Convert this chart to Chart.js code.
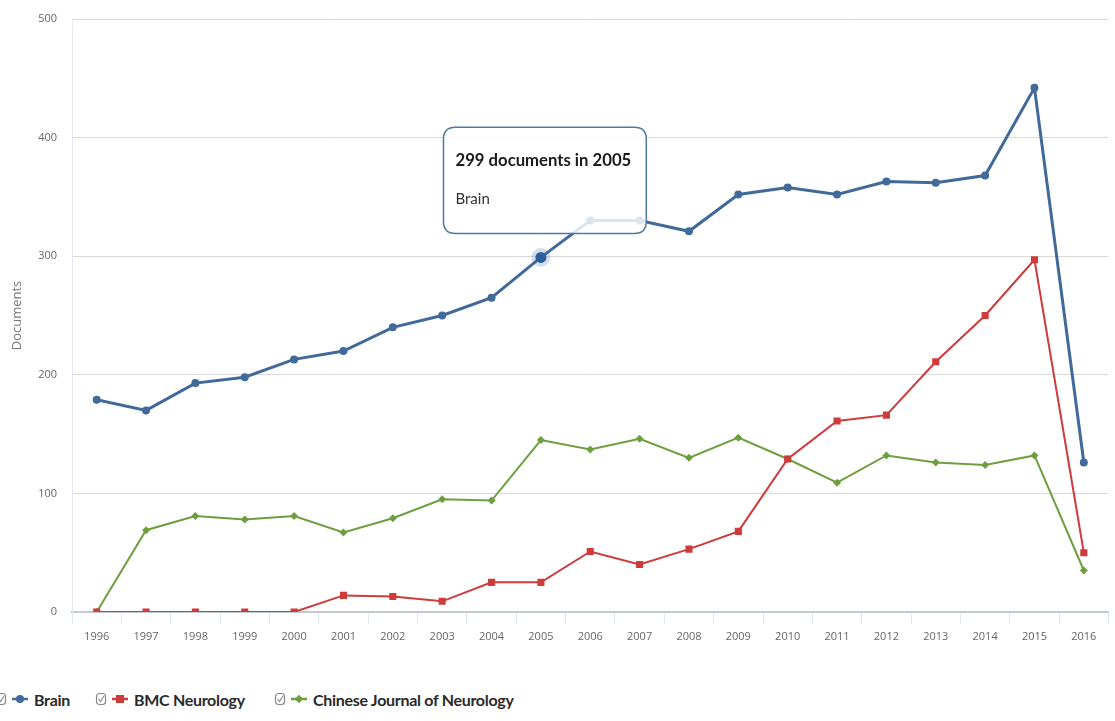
<!DOCTYPE html>
<html>
<head>
<meta charset="utf-8">
<script src="https://cdn.jsdelivr.net/npm/chart.js@4"></script>
<style>
  html, body { margin: 0; padding: 0; background: #fff; }
  #wrap { position: relative; width: 1115px; height: 721px; overflow: hidden; }
  #chartBox { position: absolute; left: 0; top: 0; width: 1115px; height: 660px; }
  #legend { position: absolute; left: 0; top: 688px; width: 1115px; height: 24px;
    font-family: Lato, "Open Sans", sans-serif; font-weight: bold; font-size: 16px; color: #2a2a2a; letter-spacing: -0.3px; }
  .item { position: absolute; top: 0; display: flex; align-items: center; height: 22px; }
  .item svg.box { margin-right: 5px; }
  .item svg.mark { margin-right: 6px; }
</style>
</head>
<body>
<div id="wrap">
  <div id="chartBox"><canvas id="docChart"></canvas></div>
  <div id="legend"></div>
</div>
<script>
// Documents per year for three journals
const years = ["1996", "1997", "1998", "1999", "2000", "2001", "2002", "2003", "2004", "2005", "2006",
  "2007", "2008", "2009", "2010", "2011", "2012", "2013", "2014", "2015", "2016"];
const brain = [179, 170, 193, 198, 213, 220, 240, 250, 265, 299, 330, 330, 321, 352, 358, 352, 363, 362, 368, 442, 126];
const bmcNeurology = [0, 0, 0, 0, 0, 14, 13, 9, 25, 25, 51, 40, 53, 68, 129, 161, 166, 211, 250, 297, 50];
const chineseNeurology = [0, 69, 81, 78, 81, 67, 79, 95, 94, 145, 137, 146, 130, 147, 129, 109, 132, 126, 124, 132, 35];
const seriesNames = ["Brain", "BMC Neurology", "Chinese Journal of Neurology"];
const seriesColors = ["#41699a", "#cf3a3a", "#6e9f3e"];
const yTicks = [0, 100, 200, 300, 400, 500];

const FONT = "Lato, 'Open Sans', sans-serif";
const AXIS_FONT = "'Open Sans', Lato, sans-serif";

// fixed tooltip spot above the hovered point
Chart.Tooltip.positioners.above = function (elements) {
  if (!elements.length) return false;
  const el = elements[0].element;
  return { x: el.x + 4, y: el.y - 24 };
};

function makeDataset(i, data, style, radius, width) {
  return {
    label: seriesNames[i],
    data: data,
    borderColor: seriesColors[i],
    backgroundColor: seriesColors[i],
    borderWidth: width,
    pointStyle: style,
    pointRadius: radius,
    pointBorderWidth: 0,
    pointHoverRadius: radius + 1.5,
    pointHoverBorderWidth: 8,
    pointHoverBorderColor: "rgba(65,105,154,0.22)",
    tension: 0,
  };
}

const ctx = document.getElementById("docChart").getContext("2d");
const chart = new Chart(ctx, {
  type: "line",
  data: {
    labels: years,
    datasets: [
      makeDataset(0, brain, "circle", 4, 3),
      makeDataset(1, bmcNeurology, "rect", 5, 2),
      makeDataset(2, chineseNeurology, "rectRot", 4, 2),
    ],
  },
  options: {
    responsive: true,
    maintainAspectRatio: false,
    animation: false,
    events: [],
    layout: { padding: { top: 19, right: 5, left: 0, bottom: 0 } },
    plugins: {
      legend: { display: false },
      tooltip: {
        enabled: true,
        position: "above",
        xAlign: "center",
        yAlign: "bottom",
        caretSize: 0,
        caretPadding: 0,
        backgroundColor: "rgba(255,255,255,0.82)",
        borderColor: "#4f77a6",
        borderWidth: 1.5,
        cornerRadius: 12,
        displayColors: false,
        titleColor: "#1a1a1a",
        bodyColor: "#333",
        titleFont: { family: FONT, size: 16.7, weight: "bold" },
        bodyFont: { family: FONT, size: 15 },
        titleMarginBottom: 20,
        padding: { top: 23, bottom: 25, left: 12, right: 15 },
        callbacks: {
          title: (items) => `${items[0].raw} documents in ${items[0].label}`,
          label: (item) => item.dataset.label,
        },
      },
    },
    scales: {
      x: {
        offset: true,
        grid: {
          offset: true,
          drawOnChartArea: false,
          drawTicks: true,
          tickLength: 12,
          color: "#e1e7ef",
        },
        border: { display: true, color: "#c3cad4", width: 2 },
        ticks: { color: "#666", font: { family: AXIS_FONT, size: 11 }, padding: 6, maxRotation: 0, autoSkip: false },
        afterFit: (scale) => { scale.height = 48; },
      },
      y: {
        min: 0,
        max: 500,
        afterBuildTicks: (scale) => { scale.ticks = yTicks.map((v) => ({ value: v })); },
        grid: { color: "#d9d9d9", drawTicks: false, lineWidth: 1 },
        border: { display: true, color: "#e3e9f1", width: 1 },
        ticks: { color: "#666", font: { family: AXIS_FONT, size: 11 }, padding: 15 },
        title: { display: true, text: "Documents", color: "#777", font: { family: AXIS_FONT, size: 13 }, padding: { top: 9, bottom: 0 } },
        afterFit: (scale) => {
          scale.width = 72;
          scale.paddingTop = 0;
        },
      },
    },
  },
});

// show the 2005 Brain point tooltip as in the picture
const active = [{ datasetIndex: 0, index: 9 }];
chart.setActiveElements(active);
chart.tooltip.setActiveElements(active, { x: 0, y: 0 });
chart.update();

// legend built as html under the chart
const legend = document.getElementById("legend");
const itemLeft = [-5, 95, 274];
const markers = [
  '<circle cx="8" cy="6" r="4"/>',
  '<rect x="4" y="2" width="8" height="8"/>',
  '<rect x="5" y="3" width="6" height="6" transform="rotate(45 8 6)"/>',
];
seriesNames.forEach((name, i) => {
  const item = document.createElement("span");
  item.className = "item";
  item.style.left = itemLeft[i] + "px";
  item.innerHTML =
    '<svg class="box" width="12" height="14" viewBox="0 0 12 14"><rect x="1.5" y="1.5" width="9" height="11" rx="3" fill="none" stroke="#888" stroke-width="1.2"/>' +
    '<path d="M3.5 7 L5.5 9.5 L9 4" fill="none" stroke="#888" stroke-width="1.2"/></svg>' +
    `<svg class="mark" width="16" height="12" viewBox="0 0 16 12"><line x1="0" y1="6" x2="16" y2="6" stroke="${seriesColors[i]}" stroke-width="2.5"/>` +
    `<g fill="${seriesColors[i]}">${markers[i]}</g></svg>` +
    `<span>${name}</span>`;
  legend.appendChild(item);
});
</script>
</body>
</html>
